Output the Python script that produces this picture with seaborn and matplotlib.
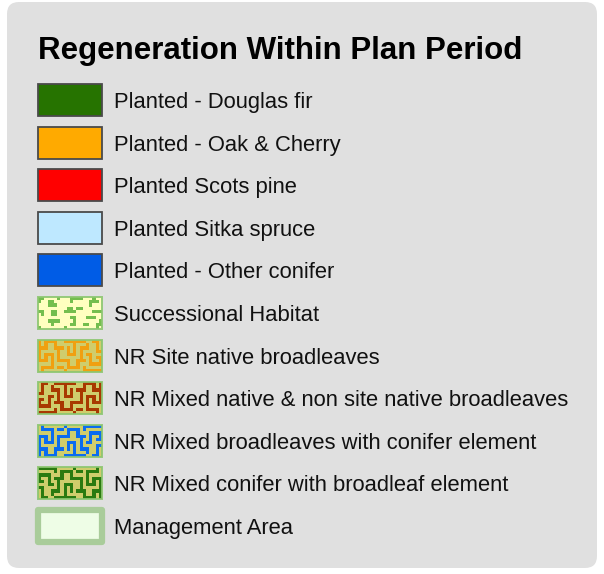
import numpy as np
import matplotlib
matplotlib.use("Agg")
import matplotlib.pyplot as plt
from matplotlib.patches import Rectangle, FancyBboxPatch
import seaborn as sns

sns.set_theme(style="white")
plt.rcParams["font.family"] = ["Liberation Sans", "DejaVu Sans"]

# ---- legend content ----
title = "Regeneration Within Plan Period"
labels = [
    "Planted - Douglas fir",
    "Planted - Oak & Cherry",
    "Planted Scots pine",
    "Planted Sitka spruce",
    "Planted - Other conifer",
    "Successional Habitat",
    "NR Site native broadleaves",
    "NR Mixed native & non site native broadleaves",
    "NR Mixed broadleaves with conifer element",
    "NR Mixed conifer with broadleaf element",
    "Management Area",
]
kinds = ["solid", "solid", "solid", "solid", "solid",
         "blob", "maze", "maze", "maze", "maze", "area"]
fill_colors = ["#267300", "#ffaa00", "#ff0000", "#bee8ff", "#005ce6",
               "#ffffc0", "#cfcd6c", "#cfcd6c", "#cfcd6c", "#cfcd6c", "#eefde6"]
pattern_colors = [None, None, None, None, None,
                  "#74be4e", "#f0a010", "#a83800", "#0a6cf0", "#2a7a10", None]
variants = [0, 0, 0, 0, 0, 0, 0, 1, 2, 3, 0]

MAZE = [
    "#.####..#######..##.",
    "#.#..#.....#...#..#.",
    "###..###.#.#.###..#.",
    "#.....#..#.#.#....##",
    "#.###.#..###.#.##...",
    "#.#.#.#......#..#.##",
    "###.#.####..###.#..#",
    "....#....#..#...####",
    ".####.##.####.#.....",
    ".#......#.....######",
]
BLOB = [
    "##....#...####...#..",
    "#..##.....#.....###.",
    "...###..........#...",
    ".........##.##......",
    "##..##..####.....###",
    ".#..##..............",
    "..........##...###..",
    "...####....#.......#",
    "....#.....##..##..##",
    "#.......#.........#.",
]


def tile(rows):
    return np.array([[c == "#" for c in r.ljust(20, ".")[:20]] for r in rows])


def make_img(rows, variant, bg, fg):
    m = tile(rows)
    if variant == 1:
        m = m[:, ::-1]
    elif variant == 2:
        m = m[::-1, :]
    elif variant == 3:
        m = m[::-1, ::-1]
    bgc = np.array(matplotlib.colors.to_rgb(bg))
    fgc = np.array(matplotlib.colors.to_rgb(fg))
    return np.where(m[..., None], fgc, bgc)


W, H = 604, 574
fig = plt.figure(figsize=(W / 100, H / 100), dpi=100)
fig.patch.set_facecolor("white")
ax = fig.add_axes([0, 0, 1, 1])
ax.set_xlim(0, W)
ax.set_ylim(H, 0)
ax.axis("off")

# panel background
ax.add_patch(FancyBboxPatch((7 + 12, 2 + 12), 590 - 24, 566 - 24,
                            boxstyle="round,pad=12", facecolor="#e0e0e0",
                            edgecolor="none", zorder=0))

ax.text(38, 59, title, fontsize=22.5, fontweight="bold", color="black",
        va="baseline", ha="left", zorder=3)

x0, sw, sh = 38, 64, 32
y_first, step = 100, 42.6
for i, (lab, kind, fc, pc, var) in enumerate(
        zip(labels, kinds, fill_colors, pattern_colors, variants)):
    yc = y_first + i * step
    top = yc - sh / 2
    if kind == "solid":
        ax.add_patch(Rectangle((x0, top), sw, sh, facecolor=fc,
                               edgecolor="#4a4a4a", linewidth=1.3, zorder=2))
    elif kind in ("maze", "blob"):
        img = make_img(MAZE if kind == "maze" else BLOB, var, fc, pc)
        ax.imshow(img, extent=(x0, x0 + sw, top + sh, top),
                  interpolation="nearest", aspect="auto", zorder=2)
        ax.add_patch(Rectangle((x0, top), sw, sh, facecolor="none",
                               edgecolor="#8cc670", linewidth=1.4,
                               alpha=0.9, zorder=3))
    else:
        ax.add_patch(Rectangle((x0, top), sw, sh, facecolor=fc,
                               edgecolor="#a9cc9a", linewidth=4.5,
                               joinstyle="round", zorder=2))
    ax.text(114, yc + 8, lab, fontsize=15.8, color="#111111",
            va="baseline", ha="left", zorder=3)

ax.set_xlim(0, W)
ax.set_ylim(H, 0)
fig.savefig("out.png", dpi=100, facecolor="white")
